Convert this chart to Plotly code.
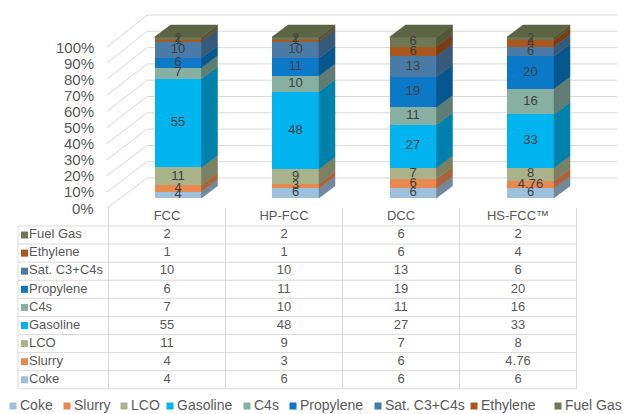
import plotly.graph_objects as go

# ---- data -------------------------------------------------------------
categories = ["FCC", "HP-FCC", "DCC", "HS-FCC™"]
series_names = ["Coke", "Slurry", "LCO", "Gasoline", "C4s",
                "Propylene", "Sat. C3+C4s", "Ethylene", "Fuel Gas"]

coke = [4, 6, 6, 6]
slurry = [4, 3, 6, 4.76]
lco = [11, 9, 7, 8]
gasoline = [55, 48, 27, 33]
c4s = [7, 10, 11, 16]
propylene = [6, 11, 19, 20]
sat_c3_c4 = [10, 10, 13, 6]
ethylene = [1, 1, 6, 4]
fuel_gas = [2, 2, 6, 2]

y_ticks = [0, 10, 20, 30, 40, 50, 60, 70, 80, 90, 100]

series_values = [coke, slurry, lco, gasoline, c4s,
                 propylene, sat_c3_c4, ethylene, fuel_gas]

# ---- styling ----------------------------------------------------------
FONT = "Liberation Sans, Arial, sans-serif"
TEXT_GRAY = "#595959"
LABEL_GRAY = "#404040"
GRID = "#d9d9d9"

front_colors = ["#9dc0dd", "#e8894f", "#a9b289", "#00b5ef", "#87b0a3",
                "#0b79c7", "#4a7ba7", "#a9561f", "#6e7655"]
side_colors = ["#71899f", "#a8643a", "#7a8163", "#0081ab", "#5f7d73",
               "#07578f", "#355a7c", "#7a3e16", "#50573a"]
top_color = "#5d6443"

W, H = 626, 414

# bar plane scale (x: category index, y: percent)
X_PX0, X_PX_STEP = 178.0, 117.5
Y_PX0, Y_PX_PER = 198.0, 1.61
x_range = [-X_PX0 / X_PX_STEP, (W - X_PX0) / X_PX_STEP]
y_range = [(Y_PX0 - H) / Y_PX_PER, Y_PX0 / Y_PX_PER]

BAR_W = 47 / X_PX_STEP
DX = 16 / X_PX_STEP          # depth offset of the 3-D boxes
DY = 12 / Y_PX_PER

# table scale (x2: column index, y2: row index)
T_X0, T_XSTEP = 167.0, 117.0
T_Y0, T_YSTEP = 235.0, 18.1
x2_range = [-T_X0 / T_XSTEP, (W - T_X0) / T_XSTEP]
y2_range = [(H - T_Y0) / T_YSTEP, -T_Y0 / T_YSTEP]


def tx(px):
    return (px - T_X0) / T_XSTEP


def ty(py):
    return (py - T_Y0) / T_YSTEP


def bx(px):
    return (px - X_PX0) / X_PX_STEP


fig = go.Figure()

# ---- normalise to 100 % -------------------------------------------------
n_cat = len(categories)
totals = [sum(s[i] for s in series_values) for i in range(n_cat)]
pct = [[s[i] / totals[i] * 100 for i in range(n_cat)] for s in series_values]

xs = list(range(n_cat))
cum_lo = []
run = [0.0] * n_cat
for p in pct:
    cum_lo.append(run[:])
    run = [run[i] + p[i] for i in range(n_cat)]

# front faces
for k, name in enumerate(series_names):
    fig.add_trace(go.Bar(
        x=xs, y=pct[k], width=BAR_W, name=name,
        marker=dict(color=front_colors[k], line=dict(width=0)),
        showlegend=False, hoverinfo="skip",
    ))

# side faces
for k, name in enumerate(series_names):
    px_, py_ = [], []
    for i in range(n_cat):
        xr = i + BAR_W / 2
        y0 = cum_lo[k][i]
        y1 = y0 + pct[k][i]
        px_ += [xr, xr + DX, xr + DX, xr, xr, None]
        py_ += [y0, y0 + DY, y1 + DY, y1, y0, None]
    fig.add_trace(go.Scatter(
        x=px_, y=py_, mode="lines", fill="toself",
        fillcolor=side_colors[k], line=dict(color=side_colors[k], width=0.5),
        showlegend=False, hoverinfo="skip",
    ))

# top faces
tpx, tpy = [], []
for i in range(n_cat):
    xl, xr = i - BAR_W / 2, i + BAR_W / 2
    top = run[i]
    tpx += [xl, xr, xr + DX, xl + DX, xl, None]
    tpy += [top, top, top + DY, top + DY, top, None]
fig.add_trace(go.Scatter(
    x=tpx, y=tpy, mode="lines", fill="toself", fillcolor=top_color,
    line=dict(color=top_color, width=0.5), showlegend=False, hoverinfo="skip",
))

# data labels
lx, ly, lt = [], [], []
for k in range(len(series_names)):
    for i in range(n_cat):
        lx.append(i)
        ly.append(cum_lo[k][i] + pct[k][i] / 2)
        lt.append(f"{series_values[k][i]:g}")
fig.add_trace(go.Scatter(
    x=lx, y=ly, text=lt, mode="text", textposition="middle center",
    textfont=dict(family=FONT, size=13, color=LABEL_GRAY),
    showlegend=False, hoverinfo="skip",
))

# walls / gridlines
shapes = []
xf, xb, xe = bx(107), bx(147), bx(617)
for v in y_ticks:
    yf = v - 6.21
    yb = 12.42 + 1.0124 * v
    shapes.append(dict(type="line", xref="x", yref="y", x0=xf, y0=yf,
                       x1=xb, y1=yb, line=dict(color=GRID, width=1),
                       layer="below"))
    shapes.append(dict(type="line", xref="x", yref="y", x0=xb, y0=yb,
                       x1=xe, y1=yb, line=dict(color=GRID, width=1),
                       layer="below"))

annotations = []
for v in y_ticks:
    annotations.append(dict(
        x=bx(96), y=v - 6.21, xref="x", yref="y", text=f"{v}%",
        showarrow=False, xanchor="right", yanchor="middle",
        font=dict(family=FONT, size=15, color=TEXT_GRAY),
    ))

# ---- data table -------------------------------------------------------
rows = list(reversed(range(len(series_names))))   # Fuel Gas first
left = tx(18)
gx, gy = [], []
# horizontal rules
for r in range(len(rows) + 1):
    yy = r - 0.5
    gx += [left, n_cat - 0.5, None]
    gy += [yy, yy, None]
# vertical rules
for c in range(n_cat + 1):
    xx = c - 0.5
    gx += [xx, xx, None]
    gy += [-1.5, len(rows) - 0.5, None]
gx += [left, left, None]
gy += [-0.5, len(rows) - 0.5, None]
fig.add_trace(go.Scatter(
    x=gx, y=gy, xaxis="x2", yaxis="y2", mode="lines",
    line=dict(color=GRID, width=1), showlegend=False, hoverinfo="skip",
))

# header
fig.add_trace(go.Scatter(
    x=list(range(n_cat)), y=[-1] * n_cat, text=categories,
    xaxis="x2", yaxis="y2", mode="text", textposition="middle center",
    textfont=dict(family=FONT, size=13, color=TEXT_GRAY),
    showlegend=False, hoverinfo="skip",
))

# cells
cx, cy, ct = [], [], []
for r, k in enumerate(rows):
    for i in range(n_cat):
        cx.append(i)
        cy.append(r)
        ct.append(f"{series_values[k][i]:g}")
fig.add_trace(go.Scatter(
    x=cx, y=cy, text=ct, xaxis="x2", yaxis="y2", mode="text",
    textposition="middle center",
    textfont=dict(family=FONT, size=13, color=TEXT_GRAY),
    showlegend=False, hoverinfo="skip",
))

# row keys
fig.add_trace(go.Scatter(
    x=[tx(24.5)] * len(rows), y=list(range(len(rows))),
    xaxis="x2", yaxis="y2", mode="markers",
    marker=dict(symbol="square", size=7,
                color=[front_colors[k] for k in rows]),
    showlegend=False, hoverinfo="skip",
))
fig.add_trace(go.Scatter(
    x=[tx(29)] * len(rows), y=list(range(len(rows))),
    text=[series_names[k] for k in rows],
    xaxis="x2", yaxis="y2", mode="text", textposition="middle right",
    textfont=dict(family=FONT, size=13, color=TEXT_GRAY),
    showlegend=False, hoverinfo="skip",
))

# ---- legend -------------------------------------------------------------
legend_px = [13, 67, 124, 170, 247, 293, 378, 474, 558]
legend_row = ty(406)
fig.add_trace(go.Scatter(
    x=[tx(p) for p in legend_px], y=[legend_row] * len(series_names),
    xaxis="x2", yaxis="y2", mode="markers",
    marker=dict(symbol="square", size=7, color=front_colors),
    showlegend=False, hoverinfo="skip",
))
fig.add_trace(go.Scatter(
    x=[tx(p + 7) for p in legend_px], y=[legend_row] * len(series_names),
    text=series_names, xaxis="x2", yaxis="y2", mode="text",
    textposition="middle right",
    textfont=dict(family=FONT, size=14, color=TEXT_GRAY),
    showlegend=False, hoverinfo="skip",
))

axis_off = dict(visible=False, fixedrange=True, showgrid=False, zeroline=False)
fig.update_layout(
    width=W, height=H,
    margin=dict(l=0, r=0, t=0, b=0),
    paper_bgcolor="white", plot_bgcolor="white",
    barmode="stack",
    showlegend=False,
    xaxis=dict(range=x_range, domain=[0, 1], **axis_off),
    yaxis=dict(range=y_range, domain=[0, 1], **axis_off),
    xaxis2=dict(range=x2_range, domain=[0, 1], overlaying="x",
                anchor="y2", **axis_off),
    yaxis2=dict(range=y2_range, domain=[0, 1], overlaying="y",
                anchor="x2", **axis_off),
    shapes=shapes,
    annotations=annotations,
    font=dict(family=FONT, color=TEXT_GRAY),
)

fig.write_html("out.html")
